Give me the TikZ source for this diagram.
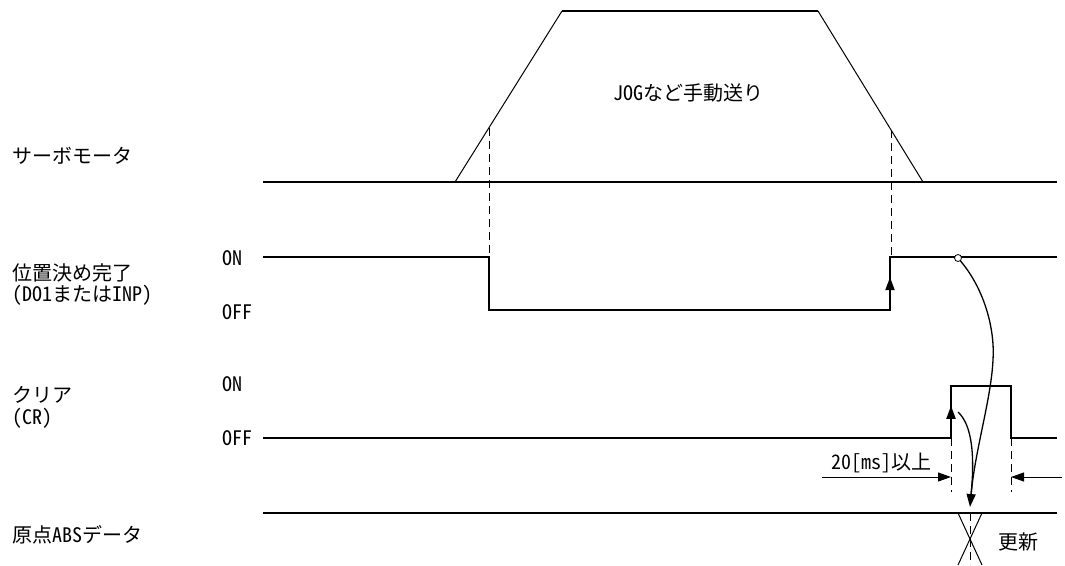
\documentclass[tikz,border=0pt]{standalone}
\usepackage{fontspec}
\setmainfont{Noto Sans CJK JP}[RawFeature=+hwid]
\usetikzlibrary{arrows.meta, decorations.markings}

\begin{document}
\begin{tikzpicture}[
    x=1pt, y=-1pt,
    font=\fontsize{20}{23}\selectfont,
    sig/.style={line width=2pt},
    ramp/.style={line width=1pt},
    guide/.style={line width=0.9pt, dash pattern=on 8pt off 5pt},
    curve/.style={line width=1.3pt},
    lbl/.style={anchor=west, inner sep=0pt},
    tip/.style={-{Triangle[length=13pt, width=9pt]}},
    edgearrow/.style={postaction={decorate}, decoration={markings,
        mark=at position 0.62 with {\arrow{Triangle[length=13pt, width=9pt]}}}}
]
\useasboundingbox (0,0) rectangle (1065,565);

% labels
\node[lbl] (servo) at (12,156) {サーボモータ};
\node[lbl] (inp) at (12,273) {位置決め完了};
\node[lbl] (inpsub) at (12,295) {(DO1またはINP)};
\node[lbl] (inpon) at (222,258) {ON};
\node[lbl] (inpoff) at (222,312) {OFF};
\node[lbl] (clr) at (12,395) {クリア};
\node[lbl] (clrsub) at (12,418) {(CR)};
\node[lbl] (clron) at (222,384) {ON};
\node[lbl] (clroff) at (222,438) {OFF};
\node[lbl] (abs) at (12,535) {原点ABSデータ};
\node (jog) at (688,93) {JOGなど手動送り};
\node[anchor=east, inner sep=0pt] (width) at (932,463) {20[ms]以上};
\node (upd) at (1018,542) {更新};

% servo motor
\coordinate (s0) at (263,182);
\coordinate (s1) at (455,182);
\coordinate (s2) at (562,11);
\coordinate (s3) at (818,11);
\coordinate (s4) at (923,182);
\coordinate (s5) at (1057,182);
\draw[sig] (s0) -- (s5);
\draw[ramp] (s1) -- (s2);
\draw[sig] (s2) -- (s3);
\draw[ramp] (s3) -- (s4);

% in-position
\coordinate (p0) at (263,257);
\coordinate (p1) at (489,257);
\coordinate (p2) at (489,310);
\coordinate (p3) at (890,310);
\coordinate (p4) at (890,257);
\coordinate (p5) at (1057,257);
\draw[sig] (p0) -- (p1) -- (p2) -- (p3) -- (p4) -- (p5);
\draw[sig, edgearrow] (p3) -- (p4);

% clear
\coordinate (c0) at (263,438);
\coordinate (c1) at (951,438);
\coordinate (c2) at (951,386);
\coordinate (c3) at (1011,386);
\coordinate (c4) at (1011,438);
\coordinate (c5) at (1057,438);
\draw[sig] (c0) -- (c1) -- (c2) -- (c3) -- (c4) -- (c5);
\draw[sig, edgearrow] (c1) -- (c2);

% ABS data
\coordinate (a0) at (263,513);
\coordinate (a1) at (1057,513);
\draw[sig] (a0) -- (a1);
\draw[ramp] (958,513) -- (982,565);
\draw[ramp] (982,513) -- (958,565);

% guides
\draw[guide] (489,128) -- (p2);
\draw[guide] (891,130) -- (891,257);
\draw[guide] (c1) -- (951,492);
\draw[guide] (c4) -- (1011,492);
\draw[guide] (970,513) -- (970,565);

% 20ms
\coordinate (dl) at (822,477);
\coordinate (dA) at (951,477);
\coordinate (dB) at (1011,477);
\coordinate (dr) at (1062,477);
\draw[ramp, tip] (dl) -- (dA);
\draw[ramp, tip] (dr) -- (dB);

% timing curves
\coordinate (peak) at (993,360);
\coordinate (clrpt) at (958,412);
\coordinate (tgt) at (970,507);
\node[circle, draw, fill=white, inner sep=0pt, minimum size=7pt, line width=0.8pt] (pt) at (958,258) {};
\draw[curve, tip] (pt) .. controls (985,290) and (995,330) .. (peak)
    .. controls (991,400) and (975,450) .. (tgt);
\draw[curve] (clrpt) .. controls (972,425) and (975,455) .. (971,495);
\end{tikzpicture}
\end{document}
